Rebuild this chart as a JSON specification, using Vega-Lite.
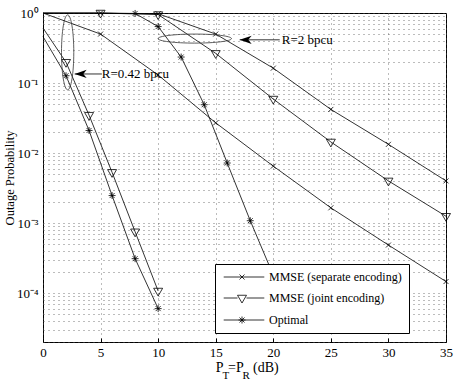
{
  "$schema": "https://vega.github.io/schema/vega-lite/v6.json",
  "width": 403,
  "height": 329,
  "autosize": "none",
  "padding": {"left": 43, "top": 13, "right": 10, "bottom": 39},
  "background": "white",
  "config": {"font": "Liberation Serif", "view": {"stroke": "black", "strokeWidth": 1}},
  "datasets": {
    "curves": [
      {"method": "MMSE (separate encoding)", "rate": "0.42", "x": 0, "y": 1.0},
      {"method": "MMSE (separate encoding)", "rate": "0.42", "x": 5, "y": 0.5},
      {"method": "MMSE (separate encoding)", "rate": "0.42", "x": 10, "y": 0.13},
      {"method": "MMSE (separate encoding)", "rate": "0.42", "x": 15, "y": 0.027},
      {"method": "MMSE (separate encoding)", "rate": "0.42", "x": 20, "y": 0.0065},
      {"method": "MMSE (separate encoding)", "rate": "0.42", "x": 25, "y": 0.00165},
      {"method": "MMSE (separate encoding)", "rate": "0.42", "x": 30, "y": 0.000485},
      {"method": "MMSE (separate encoding)", "rate": "0.42", "x": 35, "y": 0.000146},
      {"method": "MMSE (joint encoding)", "rate": "0.42", "x": 0, "y": 0.61},
      {"method": "MMSE (joint encoding)", "rate": "0.42", "x": 2, "y": 0.198},
      {"method": "MMSE (joint encoding)", "rate": "0.42", "x": 4, "y": 0.0347},
      {"method": "MMSE (joint encoding)", "rate": "0.42", "x": 6, "y": 0.0053},
      {"method": "MMSE (joint encoding)", "rate": "0.42", "x": 8, "y": 0.00075},
      {"method": "MMSE (joint encoding)", "rate": "0.42", "x": 10, "y": 0.000107},
      {"method": "Optimal", "rate": "0.42", "x": 0, "y": 0.46},
      {"method": "Optimal", "rate": "0.42", "x": 2, "y": 0.127},
      {"method": "Optimal", "rate": "0.42", "x": 4, "y": 0.021},
      {"method": "Optimal", "rate": "0.42", "x": 6, "y": 0.00247},
      {"method": "Optimal", "rate": "0.42", "x": 8, "y": 0.00031},
      {"method": "Optimal", "rate": "0.42", "x": 10, "y": 0.00006},
      {"method": "MMSE (separate encoding)", "rate": "2", "x": 0, "y": 1.0},
      {"method": "MMSE (separate encoding)", "rate": "2", "x": 5, "y": 1.0},
      {"method": "MMSE (separate encoding)", "rate": "2", "x": 10, "y": 0.975},
      {"method": "MMSE (separate encoding)", "rate": "2", "x": 15, "y": 0.5},
      {"method": "MMSE (separate encoding)", "rate": "2", "x": 20, "y": 0.163},
      {"method": "MMSE (separate encoding)", "rate": "2", "x": 25, "y": 0.042},
      {"method": "MMSE (separate encoding)", "rate": "2", "x": 30, "y": 0.0133},
      {"method": "MMSE (separate encoding)", "rate": "2", "x": 35, "y": 0.004},
      {"method": "MMSE (joint encoding)", "rate": "2", "x": 0, "y": 1.0},
      {"method": "MMSE (joint encoding)", "rate": "2", "x": 5, "y": 1.0},
      {"method": "MMSE (joint encoding)", "rate": "2", "x": 10, "y": 0.95},
      {"method": "MMSE (joint encoding)", "rate": "2", "x": 15, "y": 0.265},
      {"method": "MMSE (joint encoding)", "rate": "2", "x": 20, "y": 0.059},
      {"method": "MMSE (joint encoding)", "rate": "2", "x": 25, "y": 0.0144},
      {"method": "MMSE (joint encoding)", "rate": "2", "x": 30, "y": 0.004},
      {"method": "MMSE (joint encoding)", "rate": "2", "x": 35, "y": 0.00125},
      {"method": "Optimal", "rate": "2", "x": 8, "y": 0.985},
      {"method": "Optimal", "rate": "2", "x": 10, "y": 0.64},
      {"method": "Optimal", "rate": "2", "x": 12, "y": 0.235},
      {"method": "Optimal", "rate": "2", "x": 14, "y": 0.049},
      {"method": "Optimal", "rate": "2", "x": 16, "y": 0.0072},
      {"method": "Optimal", "rate": "2", "x": 18, "y": 0.00108},
      {"method": "Optimal", "rate": "2", "x": 20, "y": 0.00018}
    ],
    "ellipseTall": [{"x": 2.14, "y": 0.274}],
    "ellipseWide": [{"x": 13.18, "y": 0.431}],
    "arrows": [
      {"x": 2.75, "x2": 5.07, "y": 0.1346, "tx": 5.1, "label": "R=0.42 bpcu"},
      {"x": 17.08, "x2": 20.56, "y": 0.414, "tx": 20.74, "label": "R=2 bpcu"}
    ],
    "titleMain": [
      {"x": 15.0, "text": "P"},
      {"x": 16.07, "text": "=P"},
      {"x": 18.24, "text": "(dB)"}
    ],
    "titleSub": [
      {"x": 15.58, "text": "T"},
      {"x": 17.32, "text": "R"}
    ]
  },
  "layer": [
    {
      "data": {"name": "curves"},
      "mark": {"type": "line", "color": "black", "strokeWidth": 0.8},
      "encoding": {
        "x": {
          "field": "x", "type": "quantitative",
          "scale": {"domain": [0, 35], "nice": false, "zero": false},
          "axis": {
            "values": [0, 5, 10, 15, 20, 25, 30, 35],
            "title": null, "domain": false,
            "grid": true, "gridDash": [1, 4], "gridColor": "#555", "gridWidth": 0.8,
            "ticks": true, "tickSize": -4, "tickColor": "black", "tickWidth": 1,
            "labelFont": "Liberation Serif", "labelFontSize": 13, "labelColor": "black",
            "labelPadding": 8, "labelFlush": false
          }
        },
        "y": {
          "field": "y", "type": "quantitative",
          "scale": {"type": "log", "domain": [0.00002, 1], "nice": false},
          "axis": {
            "values": [2e-5, 3e-5, 4e-5, 5e-5, 6e-5, 7e-5, 8e-5, 9e-5, 1e-4, 2e-4, 3e-4, 4e-4, 5e-4, 6e-4, 7e-4, 8e-4, 9e-4, 1e-3, 2e-3, 3e-3, 4e-3, 5e-3, 6e-3, 7e-3, 8e-3, 9e-3, 0.01, 0.02, 0.03, 0.04, 0.05, 0.06, 0.07, 0.08, 0.09, 0.1, 0.2, 0.3, 0.4, 0.5, 0.6, 0.7, 0.8, 0.9, 1],
            "labelExpr": "abs(log(datum.value)/LN10 - round(log(datum.value)/LN10)) < 0.01 ? ['10⁰','10⁻¹','10⁻²','10⁻³','10⁻⁴','10⁻⁵'][-round(log(datum.value)/LN10)] : ''",
            "title": "Outage Probability",
            "titleFont": "Liberation Serif", "titleFontSize": 12.5, "titleFontWeight": "normal", "titleColor": "black",
            "titleX": -34, "titleY": 164.5, "titleAngle": -90, "titleAlign": "center", "titleBaseline": "middle",
            "domain": false,
            "grid": true, "gridDash": [1, 4], "gridColor": "#555", "gridWidth": 0.8,
            "ticks": false,
            "labelFont": "Liberation Serif", "labelFontSize": 13, "labelColor": "black",
            "labelPadding": 5, "labelFlush": false, "labelOverlap": false
          }
        },
        "detail": [{"field": "method"}, {"field": "rate"}]
      }
    },
    {
      "data": {"name": "curves"},
      "transform": [{"filter": "datum.x > 0 && datum.method === 'MMSE (separate encoding)'"}],
      "mark": {"type": "point", "filled": false, "size": 100, "color": "black", "strokeWidth": 0.8, "opacity": 1,
               "shape": "M-0.5,-0.5L0.5,0.5M-0.5,0.5L0.5,-0.5"},
      "encoding": {
        "x": {"field": "x", "type": "quantitative", "scale": {"domain": [0, 35], "nice": false, "zero": false}},
        "y": {"field": "y", "type": "quantitative", "scale": {"type": "log", "domain": [0.00002, 1], "nice": false}}
      }
    },
    {
      "data": {"name": "curves"},
      "transform": [{"filter": "datum.x > 0 && datum.method === 'MMSE (joint encoding)'"}],
      "mark": {"type": "point", "filled": false, "size": 100, "color": "black", "strokeWidth": 0.8, "opacity": 1,
               "shape": "M-0.9,-0.55L0.9,-0.55L0,1Z"},
      "encoding": {
        "x": {"field": "x", "type": "quantitative", "scale": {"domain": [0, 35], "nice": false, "zero": false}},
        "y": {"field": "y", "type": "quantitative", "scale": {"type": "log", "domain": [0.00002, 1], "nice": false}}
      }
    },
    {
      "data": {"name": "curves"},
      "transform": [{"filter": "datum.x > 0 && datum.method === 'Optimal'"}],
      "mark": {"type": "point", "filled": false, "size": 100, "color": "black", "strokeWidth": 0.8, "opacity": 1,
               "shape": "M0,-0.7L0,0.7M-0.7,0L0.7,0M-0.5,-0.5L0.5,0.5M-0.5,0.5L0.5,-0.5"},
      "encoding": {
        "x": {"field": "x", "type": "quantitative", "scale": {"domain": [0, 35], "nice": false, "zero": false}},
        "y": {"field": "y", "type": "quantitative", "scale": {"type": "log", "domain": [0.00002, 1], "nice": false}}
      }
    },
    {
      "data": {"name": "ellipseTall"},
      "mark": {"type": "point", "filled": false, "size": 5625, "color": "#333", "strokeWidth": 0.8, "opacity": 1,
               "shape": "M0.164,0C0.164,0.552 0.091,1 0,1C-0.091,1 -0.164,0.552 -0.164,0C-0.164,-0.552 -0.091,-1 0,-1C0.091,-1 0.164,-0.552 0.164,0Z"},
      "encoding": {
        "x": {"field": "x", "type": "quantitative", "scale": {"domain": [0, 35], "nice": false, "zero": false}},
        "y": {"field": "y", "type": "quantitative", "scale": {"type": "log", "domain": [0.00002, 1], "nice": false}}
      }
    },
    {
      "data": {"name": "ellipseWide"},
      "mark": {"type": "point", "filled": false, "size": 5388, "color": "#333", "strokeWidth": 0.8, "opacity": 1,
               "shape": "M1,0C1,0.068 0.552,0.123 0,0.123C-0.552,0.123 -1,0.068 -1,0C-1,-0.068 -0.552,-0.123 0,-0.123C0.552,-0.123 1,-0.068 1,0Z"},
      "encoding": {
        "x": {"field": "x", "type": "quantitative", "scale": {"domain": [0, 35], "nice": false, "zero": false}},
        "y": {"field": "y", "type": "quantitative", "scale": {"type": "log", "domain": [0.00002, 1], "nice": false}}
      }
    },
    {
      "data": {"name": "arrows"},
      "mark": {"type": "rule", "color": "#333", "strokeWidth": 1},
      "encoding": {
        "x": {"field": "x", "type": "quantitative", "scale": {"domain": [0, 35], "nice": false, "zero": false}},
        "x2": {"field": "x2"},
        "y": {"field": "y", "type": "quantitative", "scale": {"type": "log", "domain": [0.00002, 1], "nice": false}}
      }
    },
    {
      "data": {"name": "arrows"},
      "mark": {"type": "point", "filled": true, "size": 225, "color": "black", "opacity": 1,
               "shape": "M0,0L1.6,-0.55L1.15,0L1.6,0.55Z"},
      "encoding": {
        "x": {"field": "x", "type": "quantitative", "scale": {"domain": [0, 35], "nice": false, "zero": false}},
        "y": {"field": "y", "type": "quantitative", "scale": {"type": "log", "domain": [0.00002, 1], "nice": false}}
      }
    },
    {
      "data": {"name": "arrows"},
      "mark": {"type": "text", "align": "left", "baseline": "middle", "font": "Liberation Serif", "fontSize": 13, "color": "black"},
      "encoding": {
        "x": {"field": "tx", "type": "quantitative", "scale": {"domain": [0, 35], "nice": false, "zero": false}},
        "y": {"field": "y", "type": "quantitative", "scale": {"type": "log", "domain": [0.00002, 1], "nice": false}},
        "text": {"field": "label"}
      }
    },
    {
      "data": {"name": "titleMain"},
      "mark": {"type": "text", "align": "left", "baseline": "alphabetic", "font": "Liberation Serif", "fontSize": 14, "color": "black", "dy": 29.7},
      "encoding": {
        "x": {"field": "x", "type": "quantitative", "scale": {"domain": [0, 35], "nice": false, "zero": false}},
        "y": {"datum": 0.00002, "type": "quantitative", "scale": {"type": "log", "domain": [0.00002, 1], "nice": false}},
        "text": {"field": "text"}
      }
    },
    {
      "data": {"name": "titleSub"},
      "mark": {"type": "text", "align": "left", "baseline": "alphabetic", "font": "Liberation Serif", "fontSize": 11, "color": "black", "dy": 37},
      "encoding": {
        "x": {"field": "x", "type": "quantitative", "scale": {"domain": [0, 35], "nice": false, "zero": false}},
        "y": {"datum": 0.00002, "type": "quantitative", "scale": {"type": "log", "domain": [0.00002, 1], "nice": false}},
        "text": {"field": "text"}
      }
    },
    {
      "data": {"name": "curves"},
      "transform": [{"filter": "datum.x < 0"}],
      "mark": {"type": "point", "filled": false, "size": 100, "color": "black", "strokeWidth": 0.8, "opacity": 1},
      "encoding": {
        "x": {"field": "x", "type": "quantitative", "scale": {"domain": [0, 35], "nice": false, "zero": false}},
        "y": {"field": "y", "type": "quantitative", "scale": {"type": "log", "domain": [0.00002, 1], "nice": false}},
        "shape": {
          "field": "method", "type": "nominal",
          "scale": {
            "domain": ["MMSE (separate encoding)", "MMSE (joint encoding)", "Optimal"],
            "range": [
              "M-0.86,0L7.26,0M2.3,-0.5L3.3,0.5M2.3,0.5L3.3,-0.5",
              "M-0.86,0L1.9,-0.0M3.7,0L7.26,0M1.9,-0.55L3.7,-0.55L2.8,1Z",
              "M-0.86,0L7.26,0M2.8,-0.7L2.8,0.7M2.1,0L3.5,0M2.3,-0.5L3.3,0.5M2.3,0.5L3.3,-0.5"
            ]
          },
          "legend": {
            "orient": "none", "legendX": 172, "legendY": 251,
            "title": null,
            "padding": 7, "strokeColor": "black", "fillColor": "white", "cornerRadius": 0,
            "labelFont": "Liberation Serif", "labelFontSize": 12, "labelColor": "black",
            "labelOffset": 35, "rowPadding": 9, "symbolSize": 100, "labelLimit": 400,
            "symbolStrokeColor": "black", "symbolStrokeWidth": 0.8, "symbolFillColor": "transparent",
            "symbolOpacity": 1
          }
        }
      }
    }
  ]
}
